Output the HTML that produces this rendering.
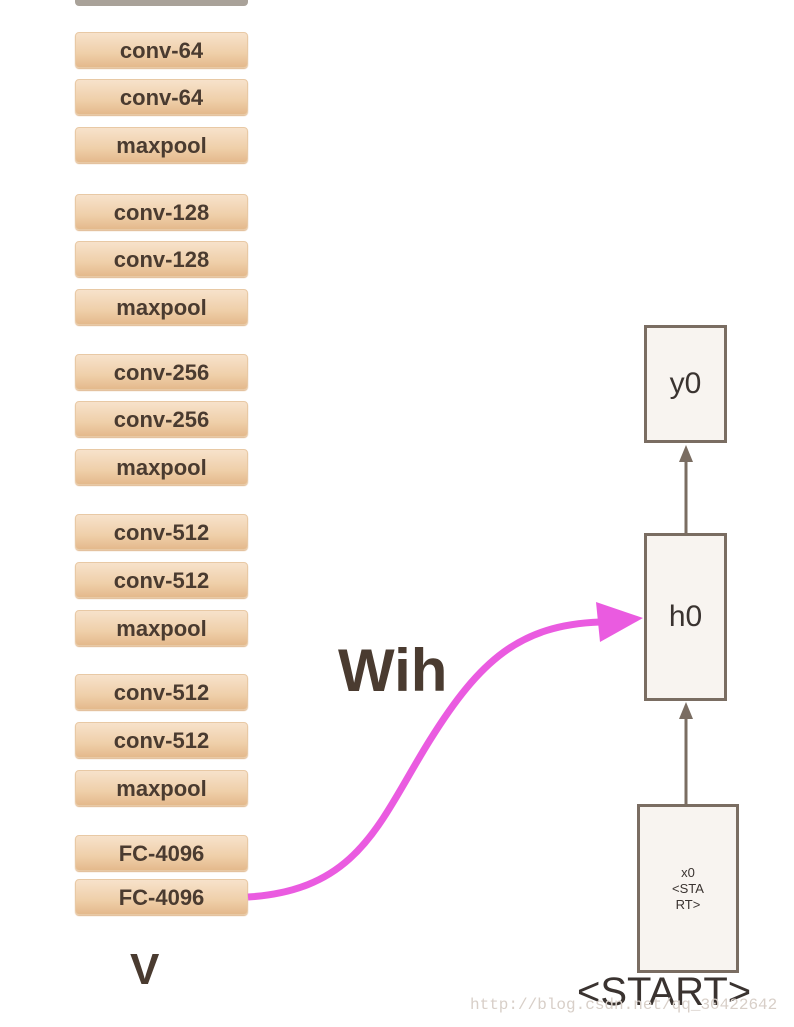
<!DOCTYPE html>
<html><head><style>
body{margin:0;width:794px;height:1027px;background:#fff;position:relative;overflow:hidden;font-family:"Liberation Sans","DejaVu Sans",sans-serif}
.b{position:absolute;left:75px;width:173px;height:36px;border-radius:4px;background:linear-gradient(#f7e2cb,#efcfa9 60%,#e4b98c);border:1px solid #e8c9a5;box-sizing:border-box;color:#4a3b30;font-weight:bold;font-size:22px;text-align:center;line-height:36px;box-shadow:0 1px 1px #e0b88e}
.r{position:absolute;border:3px solid #7a6d62;background:#f8f4f0;box-sizing:border-box;color:#3a3330;text-align:center}
</style></head><body>
<div style="position:absolute;left:75px;top:-8px;width:173px;height:14px;background:#a9a299;border-radius:4px"></div>
<div class="b" style="top:32px">conv-64</div>
<div class="b" style="top:79px">conv-64</div>
<div class="b" style="top:127px">maxpool</div>
<div class="b" style="top:194px">conv-128</div>
<div class="b" style="top:241px">conv-128</div>
<div class="b" style="top:289px">maxpool</div>
<div class="b" style="top:354px">conv-256</div>
<div class="b" style="top:401px">conv-256</div>
<div class="b" style="top:449px">maxpool</div>
<div class="b" style="top:514px">conv-512</div>
<div class="b" style="top:562px">conv-512</div>
<div class="b" style="top:610px">maxpool</div>
<div class="b" style="top:674px">conv-512</div>
<div class="b" style="top:722px">conv-512</div>
<div class="b" style="top:770px">maxpool</div>
<div class="b" style="top:835px">FC-4096</div>
<div class="b" style="top:879px">FC-4096</div>
<div style="position:absolute;left:130px;top:945px;font-size:44px;font-weight:bold;color:#4a3b30">V</div>
<div style="position:absolute;left:338px;top:636px;font-size:60px;font-weight:bold;color:#4a3b30">Wih</div>
<div class="r" style="left:644px;top:325px;width:83px;height:118px;line-height:112px;font-size:30px">y0</div>
<div class="r" style="left:644px;top:533px;width:83px;height:168px;line-height:162px;font-size:30px">h0</div>
<div class="r" style="left:637px;top:804px;width:102px;height:169px;font-size:13px;padding-top:58px;line-height:16px">x0<br>&lt;STA<br>RT&gt;</div>
<div style="position:absolute;left:577px;top:970px;font-size:40px;color:#3a3330">&lt;START&gt;</div>
<div style="position:absolute;left:470px;top:996px;font-size:16px;color:#d8cfc8;font-family:'Liberation Mono',monospace">http://blog.csdn.net/qq_30422642</div>
<svg style="position:absolute;left:0;top:0" width="794" height="1027">
<line x1="686" y1="533" x2="686" y2="455" stroke="#7a6d62" stroke-width="3"/>
<polygon points="686,445 679,462 693,462" fill="#7a6d62"/>
<line x1="686" y1="804" x2="686" y2="712" stroke="#7a6d62" stroke-width="3"/>
<polygon points="686,702 679,719 693,719" fill="#7a6d62"/>
<path d="M248,897 C360,890 380,820 430,740 C480,660 520,625 600,622" fill="none" stroke="#ea5be0" stroke-width="7"/>
<polygon points="643,618 596,602 600,642" fill="#ea5be0"/>
</svg>
</body></html>
